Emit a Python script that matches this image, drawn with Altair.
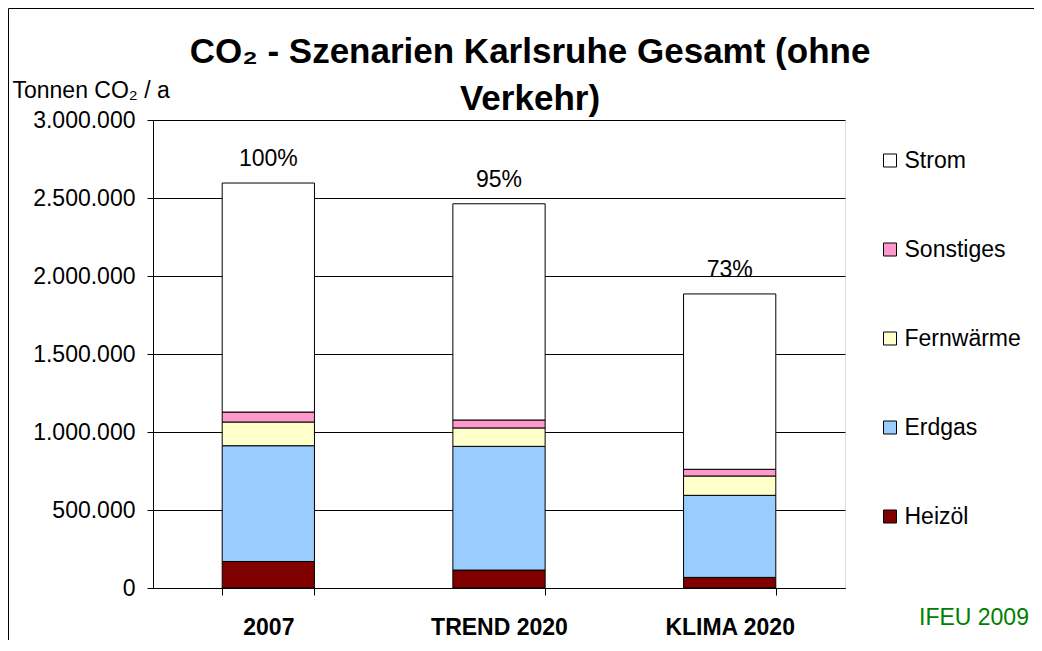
import altair as alt
import pandas as pd

FONT = "Liberation Sans"

categories = ["2007", "TREND 2020", "KLIMA 2020"]
series = ["Heizöl", "Erdgas", "Fernwärme", "Sonstiges", "Strom"]
heizoel = [170000, 115000, 68000]
erdgas = [742000, 793000, 526000]
fernwaerme = [152000, 118000, 124000]
sonstiges = [64000, 51000, 43000]
strom = [1468000, 1386000, 1124000]
pct_labels = ["100%", "95%", "73%"]
legend_order = ["Strom", "Sonstiges", "Fernwärme", "Erdgas", "Heizöl"]
legend_colors = ["#FFFFFF", "#FF99CC", "#FFFFCC", "#99CCFF", "#800000"]
y_ticks = [0, 500000, 1000000, 1500000, 2000000, 2500000, 3000000]
title_lines = ["CO\u2082 - Szenarien Karlsruhe Gesamt (ohne", "Verkehr)"]
y_title = "Tonnen CO\u2082 / a"
source_note = "IFEU 2009"

rows = []
for si, (name, vals) in enumerate(zip(series, [heizoel, erdgas, fernwaerme, sonstiges, strom])):
    for c, v in zip(categories, vals):
        rows.append({"Kategorie": c, "Energieträger": name, "Wert": v, "Ordnung": si})
df = pd.DataFrame(rows)

totals = [sum(t) for t in zip(heizoel, erdgas, fernwaerme, sonstiges, strom)]
tot = pd.DataFrame({"Kategorie": categories, "Summe": totals, "Label": pct_labels})

x_enc = alt.X(
    "Kategorie:N",
    sort=categories,
    scale=alt.Scale(paddingInner=0.6, paddingOuter=0.3),
    axis=alt.Axis(
        title=None, labelFontSize=23, labelFontWeight="bold", labelColor="black",
        labelAngle=0, labelPadding=21, tickSize=7, tickBand="extent",
        tickColor="black", domainColor="black", labelFont=FONT,
    ),
)

y_enc = alt.Y(
    "Wert:Q",
    stack="zero",
    scale=alt.Scale(domain=[0, 3000000], nice=False),
    axis=alt.Axis(
        values=y_ticks,
        labelExpr="replace(format(datum.value, ','), regexp(',', 'g'), '.')",
        labelFontSize=23, labelFont=FONT, labelColor="black", labelPadding=12,
        tickSize=6, tickColor="black", domainColor="black",
        gridColor="black", gridOpacity=1, gridWidth=1,
        title=y_title, titleAngle=0, titleAlign="left", titleBaseline="alphabetic",
        titleX=-141, titleY=-23, titleFontSize=23, titleFontWeight="normal",
        titleFont=FONT, titleColor="black",
    ),
)

bars = alt.Chart(df).mark_bar(stroke="black", strokeWidth=1).encode(
    x=x_enc,
    y=y_enc,
    color=alt.Color(
        "Energieträger:N",
        scale=alt.Scale(domain=legend_order, range=legend_colors),
        legend=alt.Legend(
            title=None, orient="none", legendX=725.5, legendY=29,
            symbolType="square", symbolSize=169, symbolStrokeColor="black",
            symbolStrokeWidth=1, labelFontSize=23, labelFont=FONT,
            labelColor="black", rowPadding=65, labelOffset=3, padding=0,
        ),
    ),
    order=alt.Order("Ordnung:Q", sort="ascending"),
)

labels = alt.Chart(tot).mark_text(
    fontSize=23, dy=-17, baseline="alphabetic", font=FONT, color="black"
).encode(
    x=alt.X("Kategorie:N", sort=categories),
    y=alt.Y("Summe:Q"),
    text="Label:N",
)

frame_left = alt.Chart(alt.Data(values=[{"f": 1}])).mark_rule(
    color="black", strokeWidth=1
).encode(x=alt.value(-144.5), y=alt.value(-111.5), y2=alt.value(540))

frame_top = alt.Chart(alt.Data(values=[{"f": 1}])).mark_rule(
    color="black", strokeWidth=1
).encode(x=alt.value(-144.5), x2=alt.value(890), y=alt.value(-111.5))

note = alt.Chart(alt.Data(values=[{"t": source_note}])).mark_text(
    color="#008000", fontSize=23, align="left", baseline="alphabetic", font=FONT
).encode(x=alt.value(766), y=alt.value(505), text="t:N")

chart = alt.layer(frame_left, frame_top, bars, labels, note).properties(
    width=692,
    height=468,
    padding={"left": 145, "top": 112, "right": 189, "bottom": 52},
    autosize=alt.AutoSizeParams(type="none"),
    title=alt.TitleParams(
        text=title_lines, fontSize=35, fontWeight="bold", font=FONT,
        anchor="middle", frame="group", dx=31, lineHeight=47, offset=-109,
        color="black",
    ),
).configure_view(stroke="#808080", strokeWidth=1).configure(font=FONT, background="white")

chart.save("out.html", embed_options={"renderer": "svg", "actions": False})
